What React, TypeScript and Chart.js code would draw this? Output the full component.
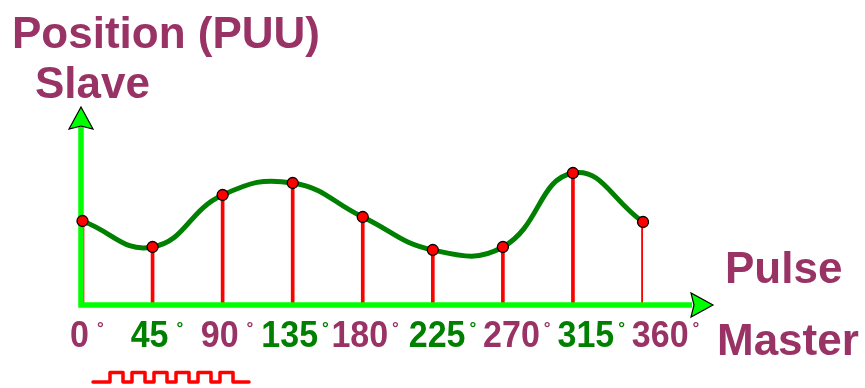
import React, { useEffect, useRef } from "react";
import { Chart, registerables } from "chart.js";

Chart.register(...registerables);

// ---- data ----
const masterDegrees = ["0", "45", "90", "135", "180", "225", "270", "315", "360"];
const slavePosition = [84, 58, 110, 122, 88, 55, 58, 132, 83];
const yAxisTitle = ["Position (PUU)", "Slave"];
const xAxisTitle = ["Pulse", "Master"];

// ---- styles ----
const PURPLE = "#993366";
const DARK_GREEN = "#008000";
const BRIGHT_GREEN = "#00ff00";
const RED = "#ff0000";
const FONT = "'Liberation Sans', Arial, sans-serif";

const diagramPlugin = {
  id: "camDiagram",
  afterDatasetDraw(chart: any, args: any) {
    if (args.index !== 0) return;
    const ctx = chart.ctx;
    const xs = chart.scales.x;
    const ys = chart.scales.y;
    const ox = xs.getPixelForValue(0) - 1.5;
    const oy = ys.getPixelForValue(0);
    const yTip = ys.getPixelForValue(198);
    const xTip = xs.getPixelForValue(8) + 70;
    ctx.save();
    // axis lines
    ctx.strokeStyle = BRIGHT_GREEN;
    ctx.lineWidth = 5.5;
    ctx.lineJoin = "miter";
    ctx.lineCap = "butt";
    ctx.beginPath();
    ctx.moveTo(ox, yTip + 20);
    ctx.lineTo(ox, oy);
    ctx.lineTo(xTip - 21, oy);
    ctx.stroke();
    // arrowheads
    ctx.fillStyle = BRIGHT_GREEN;
    ctx.strokeStyle = "#000";
    ctx.lineWidth = 1.2;
    ctx.lineJoin = "miter";
    ctx.beginPath();
    ctx.moveTo(ox, yTip);
    ctx.lineTo(ox + 12, yTip + 22);
    ctx.lineTo(ox, yTip + 19);
    ctx.lineTo(ox - 12, yTip + 22);
    ctx.closePath();
    ctx.fill();
    ctx.stroke();
    ctx.beginPath();
    ctx.moveTo(xTip, oy);
    ctx.lineTo(xTip - 22, oy + 12);
    ctx.lineTo(xTip - 19, oy);
    ctx.lineTo(xTip - 22, oy - 12);
    ctx.closePath();
    ctx.fill();
    ctx.stroke();
    ctx.restore();
  },
  afterDraw(chart: any) {
    const ctx = chart.ctx;
    const xs = chart.scales.x;
    ctx.save();
    // titles
    ctx.fillStyle = PURPLE;
    ctx.font = `bold 44px ${FONT}`;
    ctx.textAlign = "left";
    ctx.textBaseline = "alphabetic";
    ctx.fillText(yAxisTitle[0], 12, 48);
    ctx.fillText(yAxisTitle[1], 35, 98);
    ctx.fillText(xAxisTitle[0], 725, 283);
    ctx.fillText(xAxisTitle[1], 717, 355);

    // tick labels with small degree sign
    masterDegrees.forEach((lab, i) => {
      const px = xs.getPixelForValue(i);
      const shift = i <= 4 ? -3 : (i - 4) * 4.3;
      ctx.fillStyle = i % 2 === 0 ? PURPLE : DARK_GREEN;
      ctx.font = `bold 34px ${FONT}`;
      const w = ctx.measureText(lab).width;
      const left = px + shift - w / 2;
      ctx.save();
      ctx.translate(left, 346.5);
      ctx.scale(1, 1.08);
      ctx.textAlign = "left";
      ctx.fillText(lab, 0, 0);
      ctx.restore();
      ctx.font = `bold 17px ${FONT}`;
      const gap = lab.length < 3 ? 8 : 4;
      ctx.fillText("°", left + w + gap, 333.5);
    });

    // master pulse train
    ctx.strokeStyle = RED;
    ctx.lineWidth = 3.5;
    ctx.lineJoin = "round";
    ctx.lineCap = "round";
    const lo = 382;
    const hi = 372.5;
    ctx.beginPath();
    ctx.moveTo(93, lo);
    for (let k = 0; k < 6; k++) {
      const x = 110 + k * 22;
      ctx.lineTo(x, lo);
      ctx.lineTo(x, hi);
      ctx.lineTo(x + 13, hi);
      ctx.lineTo(x + 13, lo);
    }
    ctx.lineTo(249, lo);
    ctx.stroke();
    ctx.restore();
  },
};

export default function App() {
  const canvasRef = useRef<HTMLCanvasElement | null>(null);

  useEffect(() => {
    if (!canvasRef.current) return;
    const chart = new Chart(canvasRef.current, {
      type: "bar",
      data: {
        labels: masterDegrees,
        datasets: [
          {
            type: "bar",
            data: slavePosition,
            backgroundColor: RED,
            barThickness: 3,
            order: 2,
          },
          {
            type: "line",
            data: slavePosition,
            borderColor: DARK_GREEN,
            borderWidth: 5,
            tension: 0.45,
            pointRadius: 5.5,
            pointBackgroundColor: RED,
            pointBorderColor: "#000",
            pointBorderWidth: 1.3,
            order: 1,
            clip: false,
          } as any,
        ],
      },
      options: {
        responsive: false,
        devicePixelRatio: 1,
        animation: false,
        layout: { padding: { left: 82.5, right: 222, top: 105, bottom: 83 } },
        plugins: { legend: { display: false }, tooltip: { enabled: false } },
        events: [],
        scales: {
          x: { type: "category", display: false, offset: false, grid: { display: false } },
          y: { type: "linear", display: false, min: 0, max: 200 },
        },
      },
      plugins: [diagramPlugin],
    });
    return () => chart.destroy();
  }, []);

  return (
    <div style={{ position: "absolute", left: 0, top: 0, width: 865, height: 388, background: "#fff" }}>
      <canvas ref={canvasRef} width={865} height={388} style={{ width: 865, height: 388, display: "block" }} />
    </div>
  );
}
